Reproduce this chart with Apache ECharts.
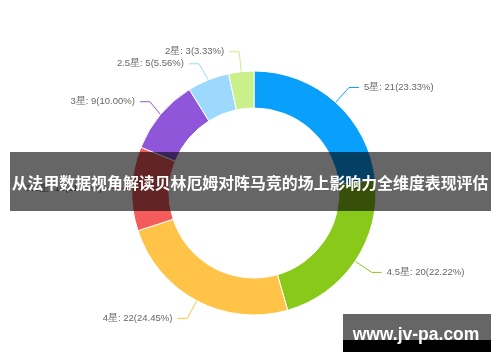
<!DOCTYPE html>
<html>
<head>
<meta charset="utf-8">
<script src="https://cdn.jsdelivr.net/npm/echarts@6/dist/echarts.min.js"></script>
<style>
  html, body { margin: 0; padding: 0; background: #fff; }
  #chart { width: 500px; height: 362px; }
</style>
</head>
<body>
<div id="chart"></div>
<script>
// rating buckets, counts, slice colours
const ratings = ['5星', '4.5星', '4星', '3.5星', '3星', '2.5星', '2星'];
const counts = [21, 20, 22, 10, 9, 5, 3];
const colors = ['#08a0fa', '#88c91a', '#ffc447', '#f45b5b', '#8f56d9', '#9cd9fc', '#caf08c'];

const title = '从法甲数据视角解读贝林厄姆对阵马竞的场上影响力全维度表现评估';
const site = 'www.jv-pa.com';

const chart = echarts.init(document.getElementById('chart'));

const option = {
  animation: false,
  color: colors,
  series: [{
    type: 'pie',
    center: [254, 193],
    radius: [85, 122],
    startAngle: 90,
    itemStyle: { borderColor: '#fff', borderWidth: 1 },
    label: {
      formatter: p => `${p.name}: ${p.value}(${p.percent.toFixed(2)}%)`,
      color: '#666',
      fontSize: 9.5,
      fontFamily: 'sans-serif',
    },
    labelLine: { length: 20, length2: 10 },
    data: ratings.map((name, i) => ({ name, value: counts[i] })),
  }],
  graphic: [
    // dark band with the headline
    {
      type: 'rect',
      shape: { x: 10, y: 152, width: 481, height: 59 },
      style: { fill: 'rgba(0,0,0,0.6)' },
      z: 100,
    },
    {
      type: 'text',
      x: 250, y: 183,
      style: {
        text: title,
        fill: '#fff',
        font: 'bold 15.9px "Noto Sans CJK SC", sans-serif',
        align: 'center',
        verticalAlign: 'middle',
      },
      z: 101,
    },
    // site watermark
    {
      type: 'rect',
      shape: { x: 343, y: 314, width: 148, height: 26 },
      style: { fill: '#666' },
      z: 100,
    },
    {
      type: 'rect',
      shape: { x: 343, y: 340, width: 148, height: 12 },
      style: { fill: '#000' },
      z: 100,
    },
    {
      type: 'text',
      x: 416, y: 335,
      style: {
        text: site,
        fill: '#fff',
        font: 'bold 17.5px "Liberation Sans", Arial, sans-serif',
        align: 'center',
        verticalAlign: 'middle',
      },
      z: 101,
    },
  ],
};

chart.setOption(option);
</script>
</body>
</html>
